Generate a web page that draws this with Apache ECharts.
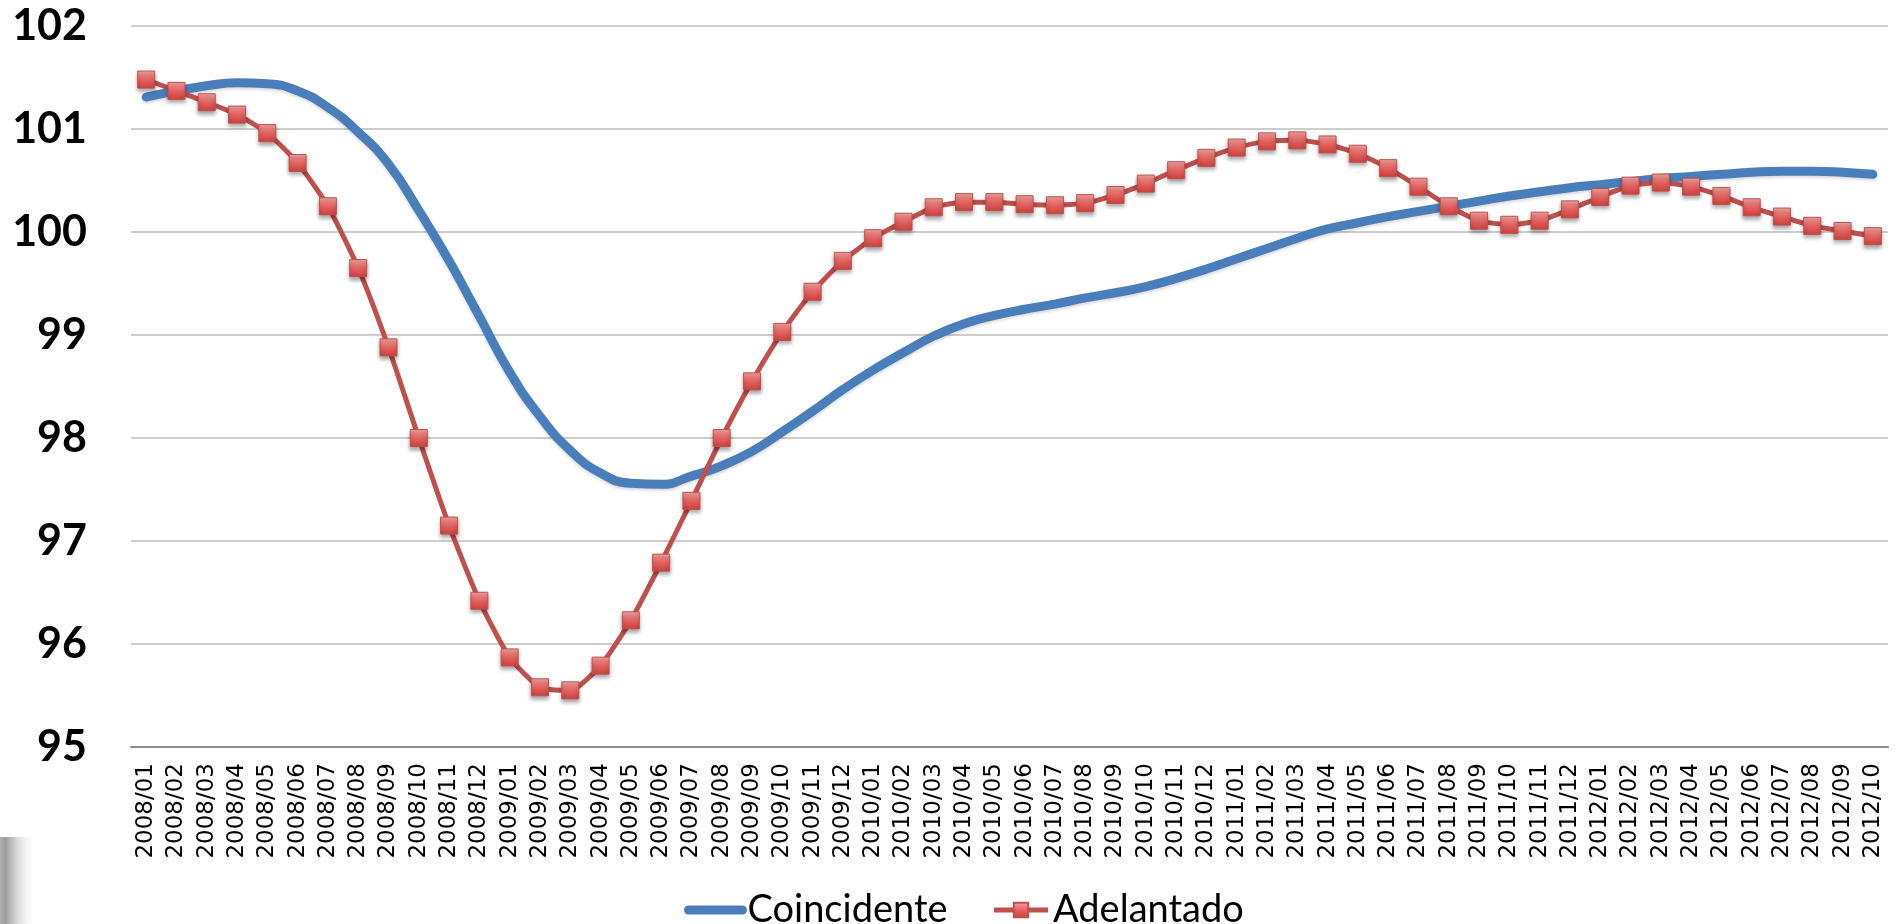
<!DOCTYPE html>
<html>
<head>
<meta charset="utf-8">
<script src="https://cdn.jsdelivr.net/npm/echarts@6/dist/echarts.min.js"></script>
<style>
  html, body { margin: 0; padding: 0; background: #fff; }
  #chart { width: 1903px; height: 924px; }
</style>
</head>
<body>
<div id="chart"></div>
<script>
// meses 2008/01 .. 2012/10
const months = [
  '2008/01','2008/02','2008/03','2008/04','2008/05','2008/06','2008/07','2008/08','2008/09','2008/10','2008/11','2008/12',
  '2009/01','2009/02','2009/03','2009/04','2009/05','2009/06','2009/07','2009/08','2009/09','2009/10','2009/11','2009/12',
  '2010/01','2010/02','2010/03','2010/04','2010/05','2010/06','2010/07','2010/08','2010/09','2010/10','2010/11','2010/12',
  '2011/01','2011/02','2011/03','2011/04','2011/05','2011/06','2011/07','2011/08','2011/09','2011/10','2011/11','2011/12',
  '2012/01','2012/02','2012/03','2012/04','2012/05','2012/06','2012/07','2012/08','2012/09','2012/10'
];

const coincidente = [
  101.31, 101.37, 101.42, 101.45, 101.44, 101.37, 101.21, 100.97, 100.66, 100.21, 99.72, 99.18,
  98.64, 98.21, 97.88, 97.66, 97.56, 97.55, 97.63, 97.73, 97.87, 98.06, 98.26, 98.47,
  98.66, 98.83, 98.99, 99.11, 99.19, 99.25, 99.30, 99.36, 99.41, 99.47, 99.55, 99.64,
  99.74, 99.84, 99.94, 100.03, 100.09, 100.15, 100.20, 100.25, 100.30, 100.35, 100.39, 100.43,
  100.46, 100.49, 100.52, 100.54, 100.56, 100.58, 100.59, 100.59, 100.58, 100.56
];

const adelantado = [
  101.48, 101.37, 101.26, 101.14, 100.96, 100.67, 100.25, 99.65, 98.88, 98.00, 97.15, 96.42,
  95.87, 95.58, 95.55, 95.79, 96.23, 96.79, 97.39, 98.00, 98.55, 99.03, 99.42, 99.72,
  99.94, 100.10, 100.24, 100.29, 100.29, 100.27, 100.26, 100.28, 100.36, 100.47, 100.60, 100.72,
  100.82, 100.88, 100.89, 100.85, 100.76, 100.62, 100.44, 100.25, 100.11, 100.07, 100.11, 100.22,
  100.34, 100.45, 100.48, 100.44, 100.35, 100.24, 100.15, 100.06, 100.01, 99.96
];

const yMin = 95, yMax = 102, yStep = 1;

const myChart = echarts.init(document.getElementById('chart'));

const markerFill = {
  type: 'linear', x: 0, y: 0, x2: 0, y2: 1,
  colorStops: [
    { offset: 0, color: '#f6a6a4' },
    { offset: 0.5, color: '#e46360' },
    { offset: 1, color: '#cc3f3c' }
  ]
};

const options = {
  animation: false,
  grid: { left: 131, right: 15, top: 26, bottom: 177 },
  legend: {
    left: 679,
    top: 886,
    itemWidth: 54,
    itemHeight: 18,
    itemGap: 44,
    textStyle: { fontFamily: 'Lato', fontSize: 38, color: '#000' },
    data: [
      { name: 'Coincidente', itemStyle: { opacity: 0 }, lineStyle: { width: 9, cap: 'round' } },
      { name: 'Adelantado', lineStyle: { width: 5 } }
    ]
  },
  xAxis: {
    type: 'category',
    data: months,
    boundaryGap: true,
    axisLine: { lineStyle: { color: '#8c8c8c', width: 2 } },
    axisTick: { show: false },
    axisLabel: {
      interval: 0,
      rotate: 90,
      margin: 16,
      color: '#000',
      fontFamily: 'DejaVu Sans',
      fontSize: 23
    }
  },
  yAxis: {
    type: 'value',
    min: yMin,
    max: yMax,
    interval: yStep,
    axisLine: { show: false },
    axisTick: { show: false },
    splitLine: { lineStyle: { color: '#bdbdbd', width: 1.5 } },
    axisLabel: {
      margin: 44,
      color: '#000',
      fontFamily: 'Lato',
      fontWeight: 'bold',
      fontSize: 43
    }
  },
  series: [
    {
      name: 'Coincidente',
      type: 'line',
      data: coincidente,
      smooth: true,
      symbol: 'none',
      lineStyle: {
        color: '#4a7ebb',
        width: 9,
        cap: 'round',
        shadowColor: 'rgba(0,0,0,0.15)',
        shadowBlur: 3,
        shadowOffsetY: 2
      },
      itemStyle: { color: '#4a7ebb' },
      z: 2
    },
    {
      name: 'Adelantado',
      type: 'line',
      data: adelantado,
      smooth: 0.2,
      symbol: 'rect',
      symbolSize: 17,
      lineStyle: { color: '#c0504d', width: 5 },
      itemStyle: {
        color: markerFill,
        borderColor: '#c0504d',
        borderWidth: 1,
        shadowColor: 'rgba(0,0,0,0.35)',
        shadowBlur: 4,
        shadowOffsetY: 3
      },
      z: 3
    }
  ],
  graphic: [
    {
      type: 'rect',
      left: 0,
      top: 837,
      shape: { width: 37, height: 87 },
      style: {
        fill: {
          type: 'linear', x: 0, y: 0, x2: 1, y2: 0,
          colorStops: [
            { offset: 0, color: '#b0b0b0' },
            { offset: 0.15, color: '#9c9c9c' },
            { offset: 1, color: 'rgba(255,255,255,0)' }
          ]
        }
      },
      silent: true
    }
  ]
};

myChart.setOption(options);
</script>
</body>
</html>
